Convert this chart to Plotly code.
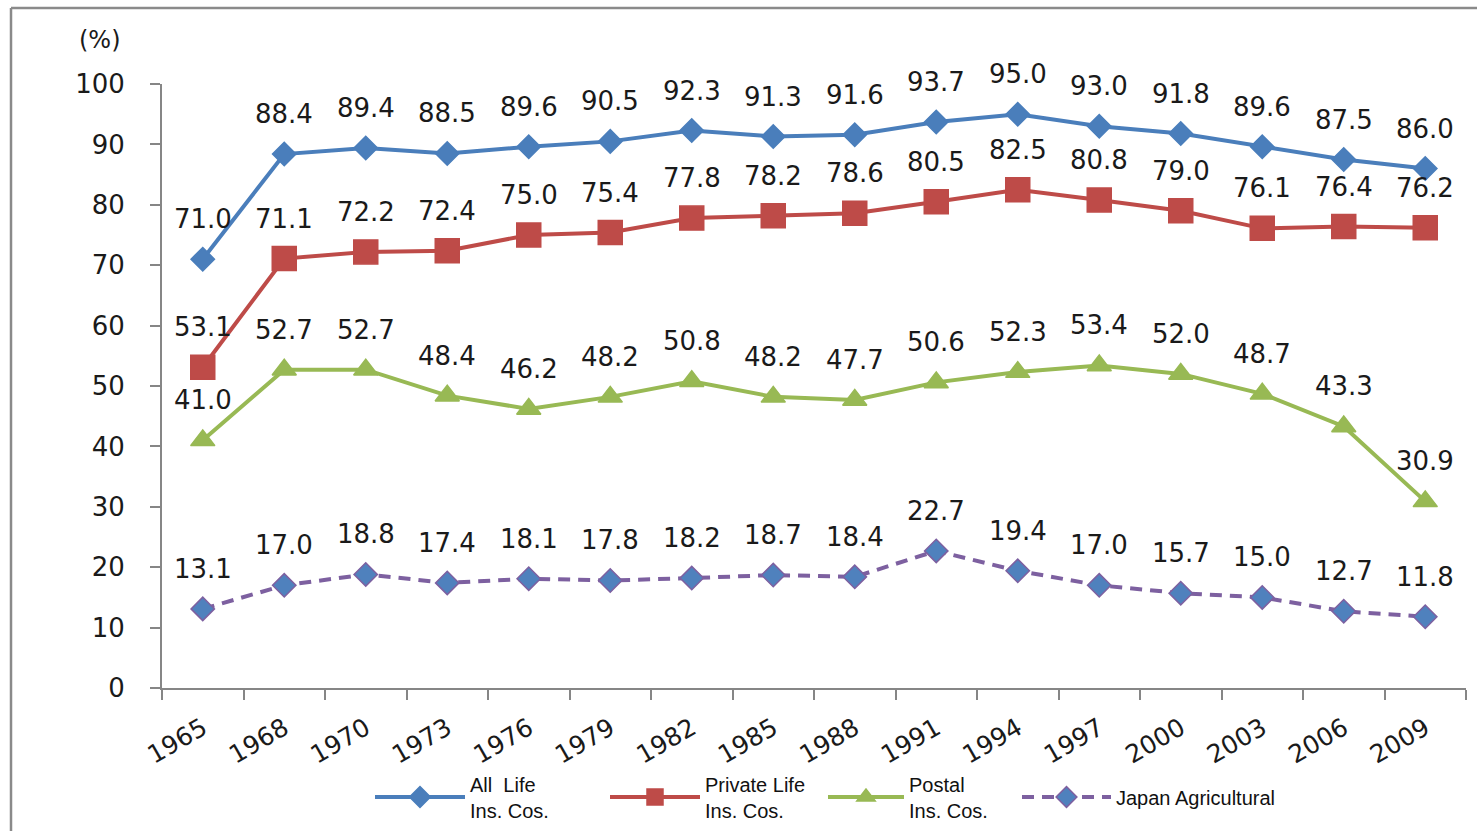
import plotly.graph_objects as go

years = ["1965", "1968", "1970", "1973", "1976", "1979", "1982", "1985",
         "1988", "1991", "1994", "1997", "2000", "2003", "2006", "2009"]
all_life = [71.0, 88.4, 89.4, 88.5, 89.6, 90.5, 92.3, 91.3, 91.6, 93.7, 95.0, 93.0, 91.8, 89.6, 87.5, 86.0]
private_life = [53.1, 71.1, 72.2, 72.4, 75.0, 75.4, 77.8, 78.2, 78.6, 80.5, 82.5, 80.8, 79.0, 76.1, 76.4, 76.2]
postal = [41.0, 52.7, 52.7, 48.4, 46.2, 48.2, 50.8, 48.2, 47.7, 50.6, 52.3, 53.4, 52.0, 48.7, 43.3, 30.9]
japan_agri = [13.1, 17.0, 18.8, 17.4, 18.1, 17.8, 18.2, 18.7, 18.4, 22.7, 19.4, 17.0, 15.7, 15.0, 12.7, 11.8]

series = [
    ("All  Life<br>Ins. Cos.", all_life, "#4a7ebb", "diamond", 18, "#4a7ebb", "solid"),
    ("Private Life<br>Ins. Cos.", private_life, "#be4b48", "square", 24, "#be4b48", "solid"),
    ("Postal<br>Ins. Cos.", postal, "#98b954", "triangle-up", 21, "#98b954", "solid"),
    ("Japan Agricultural", japan_agri, "#7d60a0", "diamond", 18, "#4f81bd", "12px,8px"),
]

# legend placement (pixel position of sample start, item width)
legend_pos = [(375, 90), (610, 90), (828, 76), (1022, 89)]

def px_x(px):
    return (px - 162) / 1304

def px_y(py):
    return (688 - py) / 604

fig = go.Figure()
legend_layouts = {}
for k, (name, vals, lc, sym, size, mc, dash) in enumerate(series):
    lname = "legend" if k == 0 else f"legend{k + 1}"
    fig.add_trace(go.Scatter(
        x=years, y=vals, name=name, mode="lines+markers",
        line=dict(color=lc, width=4, dash=dash),
        marker=dict(symbol=sym, size=size, color=mc,
                    line=dict(color=lc, width=1.5)),
        cliponaxis=False, legend=lname,
    ))
    sx, iw = legend_pos[k]
    legend_layouts[lname] = dict(
        orientation="h", x=px_x(sx - 5), y=px_y(797), xanchor="left", yanchor="middle",
        font=dict(family="Liberation Sans", size=20, color="#111"),
        itemwidth=iw, bgcolor="rgba(0,0,0,0)")
    for i, yv in enumerate(vals):
        fig.add_annotation(x=i, y=yv, xref="x", yref="y", text=f"{yv:.1f}", showarrow=False,
                           yshift=40, yanchor="middle", xanchor="center",
                           font=dict(family="DejaVu Sans", size=26, color="#1a1a1a"))

fig.add_annotation(xref="paper", yref="paper", x=px_x(100), y=px_y(40),
                   text="(%)", showarrow=False, xanchor="center", yanchor="middle",
                   font=dict(family="DejaVu Sans", size=24, color="#1a1a1a"))

# outer frame lines
fig.add_shape(type="line", xref="paper", yref="paper",
              x0=px_x(11), x1=px_x(1480), y0=px_y(8), y1=px_y(8),
              line=dict(color="#8a8a8a", width=2.5))
fig.add_shape(type="line", xref="paper", yref="paper",
              x0=px_x(11), x1=px_x(11), y0=px_y(8), y1=px_y(835),
              line=dict(color="#8a8a8a", width=2.5))

fig.update_layout(
    width=1477, height=831,
    margin=dict(l=162, r=11, t=84, b=143, autoexpand=False),
    paper_bgcolor="white", plot_bgcolor="white",
    showlegend=True,
    xaxis=dict(type="category", showline=True, linecolor="#868686", linewidth=2,
               ticks="outside", tickson="boundaries", ticklen=10, tickcolor="#868686",
               tickwidth=2, showgrid=False, tickangle=-30, automargin=False,
               tickfont=dict(family="DejaVu Sans", size=25, color="#1a1a1a"),
               ticklabelstandoff=14,
               range=[-0.5, 15.5]),
    yaxis=dict(range=[0, 100], dtick=10, showline=True, linecolor="#868686", linewidth=2,
               ticks="outside", ticklen=10, tickcolor="#868686", tickwidth=2,
               showgrid=False, zeroline=False, automargin=False,
               tickfont=dict(family="DejaVu Sans", size=26, color="#1a1a1a"),
               ticklabelstandoff=20),
    **legend_layouts,
)

fig.write_html("out.html")
